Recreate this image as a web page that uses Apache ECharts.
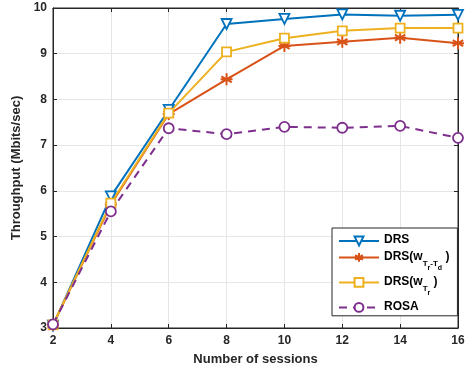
<!DOCTYPE html>
<html><head><meta charset="utf-8">
<script src="https://cdn.jsdelivr.net/npm/echarts@6/dist/echarts.min.js"></script>
<style>html,body{margin:0;padding:0;background:#fff}#c{width:469px;height:374px}</style>
</head><body><div id="c"></div>
<script>
const sessions = [2, 4, 6, 8, 10, 12, 14, 16];
const drs = [3.05, 5.88, 7.77, 9.65, 9.76, 9.86, 9.83, 9.85];
const drsWTrTd = [3.07, 5.70, 7.68, 8.44, 9.17, 9.26, 9.35, 9.23];
const drsWTr = [3.07, 5.73, 7.70, 9.04, 9.34, 9.50, 9.56, 9.56];
const rosa = [3.08, 5.55, 7.37, 7.24, 7.40, 7.38, 7.42, 7.16];
const seriesNames = ['DRS', 'DRS(wTr-Td)', 'DRS(wTr)', 'ROSA'];
const xTicks = [2, 4, 6, 8, 10, 12, 14, 16];
const yTicks = [3, 4, 5, 6, 7, 8, 9, 10];

const FONT = '"Liberation Sans", Arial, sans-serif';
const AX = '#262626';
const asterisk = 'path://M0,-10L0,10M-8.66,-5L8.66,5M-8.66,5L8.66,-5M-10,0L10,0';
function pairs(v){ return sessions.map((s,i)=>[s, v[i]]); }

const chart = echarts.init(document.getElementById('c'), null, {renderer:'canvas'});
const tickStyle = {show:true, inside:true, length:4, lineStyle:{color:AX}};
chart.setOption({
  animation:false,
  backgroundColor:'#fff',
  grid:{left:53, right:11, top:8, bottom:46, show:true, borderColor:AX, borderWidth:1, backgroundColor:'transparent'},
  xAxis:[{
    type:'value', min:2, max:16, interval:2,
    name:'Number of sessions', nameLocation:'middle', nameGap:25,
    nameTextStyle:{fontFamily:FONT, fontWeight:'bold', fontSize:13, color:AX},
    axisLabel:{fontFamily:FONT, fontWeight:'bold', fontSize:12, color:AX, margin:7,
      formatter:v=> xTicks.includes(v) ? String(v) : ''},
    axisLine:{show:true, onZero:false, lineStyle:{color:AX, width:1}},
    axisTick:tickStyle,
    splitLine:{show:true, lineStyle:{color:'#e6e6e6', width:1}}
  },{
    type:'value', min:2, max:16, interval:2, position:'top',
    axisLine:{show:true, onZero:false, lineStyle:{color:AX}}, axisTick:tickStyle,
    axisLabel:{show:false}, splitLine:{show:false}
  }],
  yAxis:[{
    type:'value', min:3, max:10, interval:1,
    name:'Throughput (Mbits/sec)', nameLocation:'middle', nameGap:26, nameRotate:90,
    nameTextStyle:{fontFamily:FONT, fontWeight:'bold', fontSize:13, color:AX},
    axisLabel:{fontFamily:FONT, fontWeight:'bold', fontSize:12, color:AX, margin:6,
      formatter:v=> yTicks.includes(v) ? String(v) : ''},
    axisLine:{show:true, onZero:false, lineStyle:{color:AX, width:1}},
    axisTick:tickStyle,
    splitLine:{show:true, lineStyle:{color:'#e6e6e6', width:1}}
  },{
    type:'value', min:3, max:10, interval:1, position:'right',
    axisLine:{show:true, onZero:false, lineStyle:{color:AX}}, axisTick:tickStyle,
    axisLabel:{show:false}, splitLine:{show:false}
  }],
  legend:{
    show:true, orient:'vertical', left:332, top:228, width:114,
    padding:[6,8,3,6], itemGap:4, itemWidth:40, itemHeight:11,
    backgroundColor:'#fff', borderColor:AX, borderWidth:1, borderRadius:0,
    data:seriesNames,
    textStyle:{fontFamily:FONT, fontWeight:'bold', fontSize:12, color:'#000',
      rich:{
        b:{fontFamily:FONT, fontWeight:'bold', fontSize:12, color:'#000', lineHeight:14, verticalAlign:'top'},
        s:{fontFamily:FONT, fontWeight:'bold', fontSize:8, color:'#000', lineHeight:8, verticalAlign:'top', padding:[9,0,0,0]},
        ss:{fontFamily:FONT, fontWeight:'bold', fontSize:7, color:'#000', lineHeight:7, verticalAlign:'top', padding:[14,0,0,0]}
      }},
    formatter:function(n){
      if(n==='DRS(wTr-Td)') return '{b|DRS(w}{s|T}{ss|r}{s|-T}{ss|d}{b| )}';
      if(n==='DRS(wTr)') return '{b|DRS(w}{s|T}{ss|r}{b| )}';
      return '{b|'+n+'}';
    }
  },
  series:[
    {name:'DRS', type:'line', data:pairs(drs), symbol:'triangle', symbolRotate:180, symbolSize:10,
      color:'#0072BD', lineStyle:{width:2, color:'#0072BD'},
      itemStyle:{color:'#fff', borderColor:'#0072BD', borderWidth:1.8}},
    {name:'DRS(wTr-Td)', type:'line', data:pairs(drsWTrTd), symbol:asterisk, symbolSize:12,
      color:'#D95319', lineStyle:{width:2, color:'#D95319'},
      itemStyle:{color:'none', borderColor:'#D95319', borderWidth:2}},
    {name:'DRS(wTr)', type:'line', data:pairs(drsWTr), symbol:'rect', symbolSize:9,
      color:'#EDB120', lineStyle:{width:2, color:'#EDB120'},
      itemStyle:{color:'#fff', borderColor:'#EDB120', borderWidth:1.8}},
    {name:'ROSA', type:'line', data:pairs(rosa), symbol:'circle', symbolSize:10,
      color:'#7E2F8E', lineStyle:{width:2, color:'#7E2F8E', type:[8,6]},
      itemStyle:{color:'#fff', borderColor:'#7E2F8E', borderWidth:1.8}}
  ]
});
</script></body></html>
